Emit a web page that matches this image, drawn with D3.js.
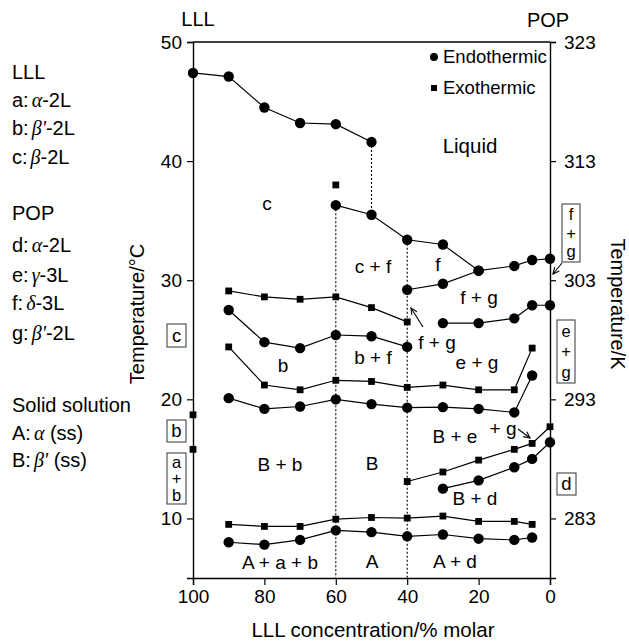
<!DOCTYPE html>
<html>
<head>
<meta charset="utf-8">
<script src="https://cdn.jsdelivr.net/npm/d3@7"></script>
<style>
  body { margin: 0; background: #fff; }
  svg { font-family: "Liberation Sans", Arial, sans-serif; }
  .greek { font-family: "Liberation Serif", "Times New Roman", serif; font-style: italic; }
</style>
</head>
<body>
<div id="chart"></div>
<script>
// phase boundary points, [LLL %, temperature °C]
var lllLiquidus = [[100, 47.4], [90, 47.1], [80, 44.5], [70, 43.2], [60, 43.1], [50, 41.6]];
var popLiquidus = [[60, 36.3], [50, 35.5], [40, 33.4], [30, 33.0], [20, 30.8], [10, 31.2], [5, 31.7], [0, 31.8]];
var fgUpper = [[40, 29.2], [30, 29.7], [20, 30.8]];
var egUpper = [[30, 26.4], [20, 26.4], [10, 26.8], [5, 27.9], [0, 27.9]];
var cfExo = [[90, 29.1], [80, 28.6], [70, 28.4], [60, 28.6], [50, 27.7], [40, 26.5]];
var bEndo = [[90, 27.5], [80, 24.8], [70, 24.3], [60, 25.4], [50, 25.3], [40, 24.4]];
var bExo = [[90, 24.4], [80, 21.2], [70, 20.8], [60, 21.6], [50, 21.5], [40, 21.0], [30, 21.2], [20, 20.8], [10, 20.8], [5, 24.3]];
var bbEndo = [[90, 20.1], [80, 19.2], [70, 19.4], [60, 20.0], [50, 19.6], [40, 19.3], [30, 19.35], [20, 19.2], [10, 18.9], [5, 22.0]];
var beExo = [[40, 13.1], [30, 13.9], [20, 14.9], [10, 15.8], [5, 16.3], [0, 17.7]];
var bdEndo = [[30, 12.5], [20, 13.2], [10, 14.3], [5, 15.0], [0, 16.4]];
var aExo = [[90, 9.5], [80, 9.33], [70, 9.33], [60, 9.94], [50, 10.08], [40, 10.03], [30, 10.2], [20, 9.75], [10, 9.75], [5, 9.5]];
var aEndo = [[90, 8.0], [80, 7.8], [70, 8.2], [60, 9.0], [50, 8.85], [40, 8.5], [30, 8.65], [20, 8.3], [10, 8.2], [5, 8.4]];
var lonelyExo = [[60, 38.0], [100, 18.7], [100, 15.8]];

// dotted composition lines: [LLL %, top T, bottom T]
var dottedLines = [[50, 41.6, 35.5], [60, 36.3, 5], [40, 33.4, 5]];

var xTicks = [100, 80, 60, 40, 20, 0];
var yTicks = [10, 20, 30, 40, 50];
var kTicks = [283, 293, 303, 313, 323];

var width = 629, height = 641;

var x = d3.scaleLinear().domain([100, 0]).range([193, 550]);
var y = d3.scaleLinear().domain([5, 50]).range([578, 42]);
var yK = d3.scaleLinear().domain([278, 323]).range([578, 42]);

var svg = d3.select("#chart").append("svg")
    .attr("width", width)
    .attr("height", height);

// axes
var fs = 19;
svg.append("g")
    .attr("transform", "translate(193,0)")
    .call(d3.axisLeft(y).tickValues(yTicks).tickSize(6).tickPadding(5))
    .call(axisStyle);
svg.append("g")
    .attr("transform", "translate(0,578)")
    .call(d3.axisBottom(x).tickValues(xTicks).tickSize(7).tickPadding(5))
    .call(axisStyle);
svg.append("g")
    .attr("transform", "translate(550,0)")
    .call(d3.axisRight(yK).tickValues(kTicks).tickSize(6).tickPadding(8))
    .call(axisStyle);
// top frame line
svg.append("line")
    .attr("x1", x(100)).attr("x2", x(0))
    .attr("y1", y(50)).attr("y2", y(50))
    .attr("stroke", "#000").attr("stroke-width", 1.4);

function axisStyle(g) {
    g.select(".domain").attr("stroke-width", 1.4);
    g.selectAll(".tick line").attr("stroke-width", 1.2);
    g.selectAll(".tick text").attr("font-size", fs).attr("font-family", "Liberation Sans, Arial, sans-serif");
}

// dotted lines
svg.selectAll(".dotted")
    .data(dottedLines)
    .enter().append("line")
    .attr("class", "dotted")
    .attr("x1", function (d) { return x(d[0]); })
    .attr("x2", function (d) { return x(d[0]); })
    .attr("y1", function (d) { return y(d[1]); })
    .attr("y2", function (d) { return y(d[2]); })
    .attr("stroke", "#000")
    .attr("stroke-width", 1.1)
    .attr("stroke-dasharray", "2,2");

var line = d3.line()
    .x(function (d) { return x(d[0]); })
    .y(function (d) { return y(d[1]); });

var series = [
    {pts: lllLiquidus, kind: "endo"},
    {pts: popLiquidus, kind: "endo"},
    {pts: fgUpper, kind: "endo"},
    {pts: egUpper, kind: "endo"},
    {pts: cfExo, kind: "exo"},
    {pts: bEndo, kind: "endo"},
    {pts: bExo, kind: "exo"},
    {pts: bbEndo, kind: "endo"},
    {pts: beExo, kind: "exo"},
    {pts: bdEndo, kind: "endo"},
    {pts: aExo, kind: "exo"},
    {pts: aEndo, kind: "endo"}
];

series.forEach(function (s) {
    svg.append("path")
        .datum(s.pts)
        .attr("d", line)
        .attr("fill", "none")
        .attr("stroke", "#000")
        .attr("stroke-width", 1.2);
    drawMarks(s.pts, s.kind);
});
drawMarks(lonelyExo, "exo");

function drawMarks(pts, kind) {
    if (kind === "endo") {
        svg.selectAll(null).data(pts).enter().append("circle")
            .attr("cx", function (d) { return x(d[0]); })
            .attr("cy", function (d) { return y(d[1]); })
            .attr("r", 5.2)
            .attr("fill", "#000");
    } else {
        svg.selectAll(null).data(pts).enter().append("rect")
            .attr("x", function (d) { return x(d[0]) - 3.4; })
            .attr("y", function (d) { return y(d[1]) - 3.4; })
            .attr("width", 6.8)
            .attr("height", 6.8)
            .attr("fill", "#000");
    }
}

// legend (markers)
svg.append("circle").attr("cx", 434).attr("cy", 57).attr("r", 4).attr("fill", "#000");
svg.append("rect").attr("x", 431).attr("y", 85).attr("width", 6).attr("height", 6).attr("fill", "#000");
addText(443, 57, "Endothermic", 18.5, "start");
addText(443, 88, "Exothermic", 18.5, "start");

// region labels
var regionLabels = [
    [470, 146, "Liquid", 20.5],
    [267, 203, "c", 19],
    [373, 266, "c + f", 19],
    [438, 264, "f", 19],
    [479, 297, "f + g", 19],
    [283, 365, "b", 19],
    [373, 357, "b + f", 19],
    [437, 342, "f + g", 19],
    [477, 362, "e + g", 19],
    [280, 464, "B + b", 19],
    [372, 463, "B", 19],
    [455, 436, "B + e", 19],
    [503, 428, "+ g", 19],
    [475, 498, "B + d", 19],
    [280, 562, "A + a + b", 19],
    [372, 561, "A", 19],
    [455, 561, "A + d", 19]
];
regionLabels.forEach(function (d) { addText(d[0], d[1], d[2], d[3], "middle"); });

function addText(px, py, str, size, anchor) {
    return svg.append("text")
        .attr("x", px).attr("y", py)
        .attr("dy", "0.35em")
        .attr("font-size", size)
        .attr("text-anchor", anchor)
        .text(str);
}

// arrows
drawArrow(423, 327, 411, 308);
drawArrow(518, 429, 530, 438);
drawArrow(562, 263, 553, 274);

function drawArrow(x1, y1, x2, y2) {
    var a = Math.atan2(y2 - y1, x2 - x1), L = 7, w = 0.45;
    svg.append("line")
        .attr("x1", x1).attr("y1", y1).attr("x2", x2).attr("y2", y2)
        .attr("stroke", "#000").attr("stroke-width", 1.1);
    svg.append("path")
        .attr("d", "M" + (x2 - L * Math.cos(a - w)) + "," + (y2 - L * Math.sin(a - w)) +
            "L" + x2 + "," + y2 +
            "L" + (x2 - L * Math.cos(a + w)) + "," + (y2 - L * Math.sin(a + w)))
        .attr("fill", "none").attr("stroke", "#000").attr("stroke-width", 1.1);
}

// boxed stacked labels, one text element per box with stacked tspans
var boxes = [
    [167, 324, 19, 23, ["c"]],
    [167, 420, 19, 22, ["b"]],
    [167, 453, 19, 51, ["a", "+", "b"]],
    [562, 204, 18, 58, ["f", "+", "g"]],
    [557, 320, 18, 63, ["e", "+", "g"]],
    [557, 473, 19, 22, ["d"]]
];
boxes.forEach(function (b) {
    svg.append("rect")
        .attr("x", b[0]).attr("y", b[1])
        .attr("width", b[2]).attr("height", b[3])
        .attr("fill", "none").attr("stroke", "#444").attr("stroke-width", 1.1);
    var n = b[4].length, step = (b[3] - 2) / n, cx = b[0] + b[2] / 2;
    b[4].forEach(function (s, i) {
        addText(cx, b[1] + 1 + step * (i + 0.5), s, n > 1 ? 16.5 : 18.5, "middle");
    });
});

// titles
addText(198, 19, "LLL", 20, "middle");
addText(548, 20, "POP", 20, "middle");
addText(373, 630, "LLL concentration/% molar", 20.5, "middle");
svg.append("text")
    .attr("transform", "translate(137,314) rotate(-90)")
    .attr("dy", "0.35em")
    .attr("font-size", 20)
    .attr("text-anchor", "middle")
    .text("Temperature/°C");
svg.append("text")
    .attr("transform", "translate(618,304) rotate(90)")
    .attr("dy", "0.35em")
    .attr("font-size", 20)
    .attr("text-anchor", "middle")
    .text("Temperature/K");

// left legend of phases
var phaseLegend = [
    [72, "LLL", null, null],
    [100, "a:", "\u03b1", "-2L"],
    [128, "b:", "\u03b2'", "-2L"],
    [157, "c:", "\u03b2", "-2L"],
    [213, "POP", null, null],
    [245, "d:", "\u03b1", "-2L"],
    [275, "e:", "\u03b3", "-3L"],
    [303, "f:", "\u03b4", "-3L"],
    [333, "g:", "\u03b2'", "-2L"],
    [405, "Solid solution", null, null],
    [433, "A:", "\u03b1", " (ss)"],
    [460, "B:", "\u03b2'", " (ss)"]
];
phaseLegend.forEach(function (d) {
    var t = svg.append("text")
        .attr("x", 12).attr("y", d[0])
        .attr("dy", "0.35em")
        .attr("font-size", 20);
    t.append("tspan").text(d[1]);
    if (d[2]) {
        t.append("tspan").attr("class", "greek").attr("dx", 3).text(d[2]);
        t.append("tspan").text(d[3]);
    }
});
</script>
</body>
</html>
